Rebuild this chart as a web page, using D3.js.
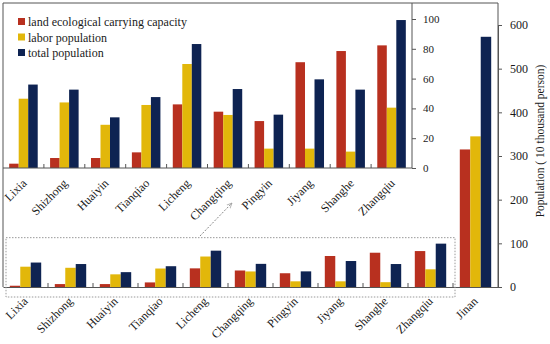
<!DOCTYPE html>
<html>
<head>
<meta charset="utf-8">
<script src="https://cdn.jsdelivr.net/npm/d3@7"></script>
<style>
  body { margin: 0; background: #fff; }
  text { font-family: "Liberation Serif", "Times New Roman", serif; fill: #1a1a1a; }
</style>
</head>
<body>
<div id="chart"></div>
<script>
// districts of Jinan, values in 10 thousand person
var districts = ['Lixia', 'Shizhong', 'Huaiyin', 'Tianqiao', 'Licheng', 'Changqing',
                 'Pingyin', 'Jiyang', 'Shanghe', 'Zhangqiu', 'Jinan'];
var series = ['land ecological carrying capacity', 'labor population', 'total population'];
var landCapacity = [2.9, 6.7, 6.7, 10.5, 42.7, 37.8, 31.5, 71, 78.5, 82.3, 315];
var laborPop     = [46.5, 44, 29, 42.3, 69.8, 35.6, 13, 13, 11, 40.5, 345];
var totalPop     = [56, 52.6, 34, 47.6, 83.2, 53, 35.8, 59.5, 52.6, 99.3, 573];
var mainTicks  = [0, 100, 200, 300, 400, 500, 600];
var insetTicks = [0, 20, 40, 60, 80, 100];

var colors = ['#b8301f', '#e2b70a', '#0e2352'];

var svg = d3.select('#chart').append('svg')
  .attr('width', 550)
  .attr('height', 344);

var rows = districts.map(function (d, i) {
  return { name: d, vals: [landCapacity[i], laborPop[i], totalPop[i]] };
});

var axisColor = '#555';

// ---- main chart
var x = d3.scaleBand().domain(districts).range([3, 498]);
var y = d3.scaleLinear().domain([0, 600]).range([287, 25]);
var x1 = d3.scaleBand().domain([0, 1, 2]).range([0, x.bandwidth()]).paddingOuter(0.65);

var drawBars = function (g, data, xs, ys, xi) {
  var grp = g.selectAll('g.grp').data(data).enter().append('g')
    .attr('class', 'grp')
    .attr('transform', function (d) { return 'translate(' + xs(d.name) + ',0)'; });
  grp.selectAll('rect').data(function (d) { return d.vals; }).enter().append('rect')
    .attr('x', function (d, i) { return xi(i); })
    .attr('width', xi.bandwidth())
    .attr('y', function (d) { return ys(d); })
    .attr('height', function (d) { return ys(0) - ys(d); })
    .attr('fill', function (d, i) { return colors[i]; });
};

var main = svg.append('g');
drawBars(main, rows, x, y, x1);

// frame
main.append('path')
  .attr('d', 'M3,287V3H498V287')
  .attr('fill', 'none').attr('stroke', axisColor).attr('stroke-width', 1);

var yAxis = main.append('g').attr('transform', 'translate(498,0)')
  .call(d3.axisRight(y).tickValues(mainTicks).tickSize(4).tickPadding(8));
yAxis.select('.domain').attr('stroke', axisColor);
yAxis.selectAll('line').attr('stroke', axisColor);
yAxis.selectAll('text').style('font-size', '12px')
  .style('font-family', '"Liberation Serif", serif').attr('fill', '#1a1a1a');

var xAxis = main.append('g').attr('transform', 'translate(0,287)')
  .call(d3.axisBottom(x).tickSize(0).tickFormat(''));
xAxis.select('.domain').attr('stroke', axisColor);
main.selectAll('line.sep').data(districts.slice(1)).enter().append('line')
  .attr('class', 'sep')
  .attr('x1', function (d) { return x(d); }).attr('x2', function (d) { return x(d); })
  .attr('y1', 287).attr('y2', 283)
  .attr('stroke', axisColor);

main.selectAll('text.cat').data(districts).enter().append('text')
  .attr('class', 'cat')
  .attr('text-anchor', 'end')
  .style('font-size', '12px')
  .attr('transform', function (d) {
    return 'translate(' + (x(d) + x.bandwidth() / 2 + 3) + ',302) rotate(-45)';
  })
  .text(function (d) { return d; });

svg.append('text')
  .attr('text-anchor', 'middle')
  .style('font-size', '11.5px')
  .attr('transform', 'translate(544,141) rotate(-90)')
  .text('Population ( 10 thousand person)');

// ---- inset (first ten districts, zoomed)
var insetNames = districts.slice(0, 10);
var xi = d3.scaleBand().domain(insetNames).range([3, 412]);
var yi = d3.scaleLinear().domain([0, 100]).range([168, 19]);
var xi1 = d3.scaleBand().domain([0, 1, 2]).range([0, xi.bandwidth()]).paddingOuter(0.65);

var inset = svg.append('g');
drawBars(inset, rows.slice(0, 10), xi, yi, xi1);

var iyAxis = inset.append('g').attr('transform', 'translate(412,0)')
  .call(d3.axisRight(yi).tickValues(insetTicks).tickSize(4).tickPadding(7));
iyAxis.select('.domain').attr('d', 'M0,3V168').attr('stroke', axisColor);
iyAxis.selectAll('line').attr('stroke', axisColor);
iyAxis.selectAll('text').style('font-size', '11px')
  .style('font-family', '"Liberation Serif", serif').attr('fill', '#1a1a1a');

inset.append('line')
  .attr('x1', 3).attr('x2', 412).attr('y1', 168).attr('y2', 168)
  .attr('stroke', axisColor);
inset.selectAll('line.sep').data(insetNames.slice(1)).enter().append('line')
  .attr('class', 'sep')
  .attr('x1', function (d) { return xi(d); }).attr('x2', function (d) { return xi(d); })
  .attr('y1', 168).attr('y2', 164)
  .attr('stroke', axisColor);

inset.selectAll('text.cat').data(insetNames).enter().append('text')
  .attr('class', 'cat')
  .attr('text-anchor', 'end')
  .style('font-size', '12px')
  .attr('transform', function (d) {
    return 'translate(' + (xi(d) + xi.bandwidth() / 2 + 4) + ',184) rotate(-45)';
  })
  .text(function (d) { return d; });

// legend
var legend = svg.append('g').attr('transform', 'translate(18,22)');
var li = legend.selectAll('g').data(series).enter().append('g')
  .attr('transform', function (d, i) { return 'translate(0,' + i * 15.5 + ')'; });
li.append('rect')
  .attr('x', 0).attr('y', -4).attr('width', 7).attr('height', 7)
  .attr('fill', function (d, i) { return colors[i]; });
li.append('text')
  .attr('x', 10).attr('y', 4)
  .style('font-size', '12px')
  .text(function (d) { return d; });

// dotted zoom box and arrow
svg.append('defs').append('marker')
  .attr('id', 'arr').attr('viewBox', '0 0 10 10')
  .attr('refX', 9).attr('refY', 5)
  .attr('markerWidth', 6).attr('markerHeight', 6)
  .attr('orient', 'auto')
  .append('path').attr('d', 'M0,1L9,5L0,9').attr('fill', 'none').attr('stroke', '#888');

svg.append('rect')
  .attr('x', 6).attr('y', y(113))
  .attr('width', x('Jinan') + 2 - 6).attr('height', 297 - y(113))
  .attr('fill', 'none').attr('stroke', '#999').attr('stroke-width', 1)
  .attr('stroke-dasharray', '1.5,1.5');

svg.append('line')
  .attr('x1', 200).attr('y1', 236).attr('x2', 232).attr('y2', 203)
  .attr('stroke', '#888').attr('stroke-width', 1)
  .attr('stroke-dasharray', '2,1.5')
  .attr('marker-end', 'url(#arr)');
</script>
</body>
</html>
